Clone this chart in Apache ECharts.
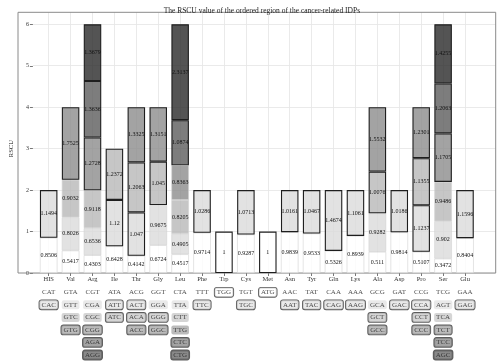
<!DOCTYPE html>
<html>
<head>
<meta charset="utf-8">
<script src="https://cdn.jsdelivr.net/npm/echarts@6/dist/echarts.min.js"></script>
<style>html,body{margin:0;padding:0;background:#fff}#c{width:500px;height:362px}</style>
</head>
<body>
<div id="c"></div>
<script>
// ---- data ----
const aminoAcids = ['HIS','Val','Arg','Ile','Thr','Gly','Leu','Phe','Trp','Cys','Met','Asn','Tyr','Gln','Lys','Ala','Asp','Pro','Ser','Glu'];
// codons per stack level (bottom -> top); '' = none
const codonsL0 = ['CAT','GTA','CGT','ATA','ACG','GGT','CTA','TTT','TGG','TGT','ATG','AAC','TAT','CAA','AAA','GCG','GAT','CCG','TCG','GAA'];
const codonsL1 = ['CAC','GTT','CGA','ATT','ACT','GGA','TTA','TTC','','TGC','','AAT','TAC','CAG','AAG','GCA','GAC','CCA','AGT','GAG'];
const codonsL2 = ['','GTC','CGC','ATC','ACA','GGG','CTT','','','','','','','','','GCT','','CCT','TCA',''];
const codonsL3 = ['','GTG','CGG','','ACC','GGC','TTG','','','','','','','','','GCC','','CCC','TCT',''];
const codonsL4 = ['','','AGA','','','','CTC','','','','','','','','','','','','TCC',''];
const codonsL5 = ['','','AGG','','','','CTG','','','','','','','','','','','','AGC',''];
// RSCU values per stack level
const rscuL0 = [0.8506,0.5417,0.4303,0.6428,0.4142,0.6724,0.4517,0.9714,1,0.9287,1,0.9839,0.9533,0.5326,0.8939,0.511,0.9814,0.5107,0.3472,0.8404];
const rscuL1 = [1.1494,0.8026,0.6536,1.12,1.047,0.9675,0.4905,1.0286,null,1.0713,null,1.0161,1.0467,1.4674,1.1061,0.9282,1.0186,1.1237,0.902,1.1596];
const rscuL2 = [null,0.9032,0.9118,1.2372,1.2063,1.045,0.8205,null,null,null,null,null,null,null,null,1.0076,null,1.1355,0.9486,null];
const rscuL3 = [null,1.7525,1.2728,null,1.3325,1.3151,0.8363,null,null,null,null,null,null,null,null,1.5532,null,1.2301,1.1705,null];
const rscuL4 = [null,null,1.3636,null,null,null,1.0874,null,null,null,null,null,null,null,null,null,null,null,1.2063,null];
const rscuL5 = [null,null,1.3679,null,null,null,2.3137,null,null,null,null,null,null,null,null,null,null,null,1.4255,null];
const yTicks = [0,1,2,3,4,5,6];

// ---- styles / layout ----
const FONT = 'Liberation Serif';
const levels = [rscuL0,rscuL1,rscuL2,rscuL3,rscuL4,rscuL5];
const codonLevels = [codonsL0,codonsL1,codonsL2,codonsL3,codonsL4,codonsL5];
const barFill = ['rgba(255,255,255,0.8)','rgba(219,219,219,0.8)','rgba(184,184,184,0.8)','rgba(140,140,140,0.8)','rgba(92,92,92,0.8)','rgba(41,41,41,0.8)'];
const boxFill = ['#ffffff','#e4e4e4','#cbcbcb','#aaaaaa','#8c8c8c','#6c6c6c'];
const P = {left:18, right:495.7, top:12.3, bottom:273, y6:24.3};
const pad = 1.4;
const n = aminoAcids.length;
const step = (P.right - P.left) / (n - 1 + 2 * pad);
const firstX = P.left + pad * step;
const lastX = firstX + (n - 1) * step;

const barSeries = levels.map((vals, li) => ({
  type: 'bar', stack: 'rscu', xAxisIndex: 4, yAxisIndex: 4, barWidth: 17.5, z: 3,
  data: vals.map((v) => v == null ? '-' : {
    value: v,
    itemStyle: {color: barFill[li], borderColor: v >= 1 ? '#1e1e1e' : '#d2d2d2', borderWidth: v >= 1 ? 1.1 : 0.6}
  }),
  label: {show: true, position: 'inside', fontFamily: FONT, fontSize: 6, color: '#111',
          formatter: p => String(p.value)}
}));

const codonData = [];
codonLevels.forEach((row, li) => row.forEach((c, i) => {
  if (!c) return;
  const v = levels[li][i];
  const boxed = v >= 1;
  codonData.push({
    value: [i, li], name: c,
    label: {
      show: true, position: 'inside', formatter: '{b}', fontFamily: FONT, fontSize: 7, color: '#222',
      backgroundColor: boxFill[li], borderColor: boxed ? '#333' : 'transparent', borderWidth: boxed ? 0.9 : 0,
      borderRadius: 2, padding: [1.5, 2, 0.5, 2]
    }
  });
}));

const chart = echarts.init(document.getElementById('c'), null, {renderer: 'canvas'});
chart.setOption({
  animation: false,
  title: {text: 'The RSCU value of the ordered region of the cancer-related IDPs', left: (P.left + P.right) / 2, textAlign: 'center', top: 2,
          textStyle: {fontFamily: FONT, fontSize: 7.5, fontWeight: 'normal', color: '#222'}},
  grid: [
    {left: P.left, width: P.right - P.left, top: P.y6, height: P.bottom - P.y6},
    {left: firstX, width: lastX - firstX, top: P.top, height: P.bottom - P.top},
    {left: firstX, width: lastX - firstX, top: 292.3, height: 355 - 292.3},
    {left: P.left, width: P.right - P.left, top: P.top, height: P.bottom - P.top, show: true, borderColor: '#8a8a8a', borderWidth: 1, backgroundColor: 'transparent', z: 1},
    {left: firstX - step / 2, width: n * step, top: P.y6, height: P.bottom - P.y6}
  ],
  xAxis: [
    {gridIndex: 0, type: 'value', min: 0, max: 1, show: false},
    {gridIndex: 1, type: 'value', min: 0, max: n - 1, interval: 1,
     axisLine: {show: false}, axisTick: {show: true, length: 3, lineStyle: {color: '#555', width: 0.8}},
     axisLabel: {formatter: v => aminoAcids[v] || '', fontFamily: FONT, fontSize: 6.5, color: '#333', margin: 3, showMinLabel: true, showMaxLabel: true},
     splitLine: {show: true, lineStyle: {color: '#e8e8e8', width: 0.9}}},
    {gridIndex: 2, type: 'value', min: 0, max: n - 1, show: false},
    {gridIndex: 3, type: 'value', min: 0, max: 1, show: false},
    {gridIndex: 4, type: 'category', data: aminoAcids, show: false}
  ],
  yAxis: [
    {gridIndex: 0, type: 'value', min: yTicks[0], max: yTicks[yTicks.length - 1], interval: 1,
     axisLine: {show: false}, axisTick: {show: true, length: 3, lineStyle: {color: '#555', width: 0.8}},
     axisLabel: {fontFamily: FONT, fontSize: 6, color: '#333', margin: 4},
     splitLine: {show: true, lineStyle: {color: '#e8e8e8', width: 0.9}},
     name: 'RSCU', nameLocation: 'middle', nameGap: 9, nameTextStyle: {fontFamily: FONT, fontSize: 6.5, color: '#222'}},
    {gridIndex: 1, type: 'value', min: 0, max: 1, show: false},
    {gridIndex: 2, type: 'value', min: 0, max: 5, inverse: true, show: false},
    {gridIndex: 3, type: 'value', min: 0, max: 1, show: false},
    {gridIndex: 4, type: 'value', min: yTicks[0], max: yTicks[yTicks.length - 1], show: false}
  ],
  series: barSeries.concat([{
    type: 'scatter', xAxisIndex: 2, yAxisIndex: 2, symbolSize: 1, itemStyle: {color: 'transparent'},
    data: codonData, z: 4
  }])
});
</script>
</body>
</html>
